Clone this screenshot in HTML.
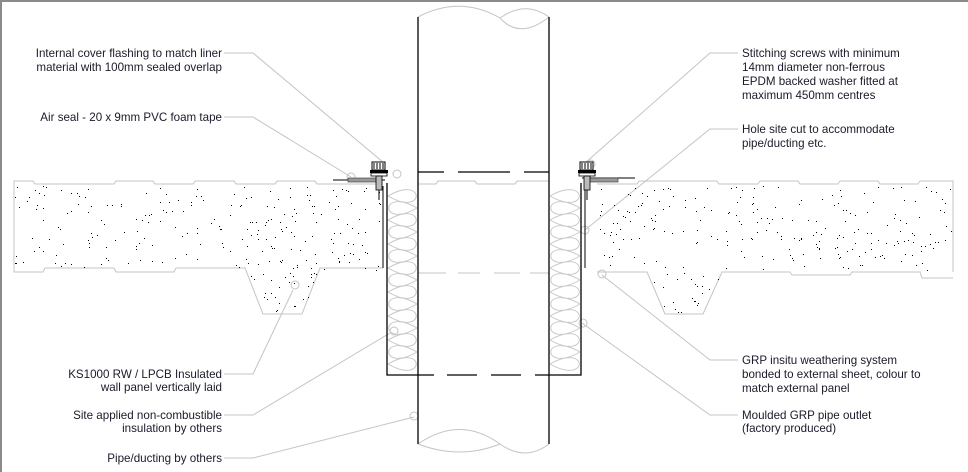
<!DOCTYPE html>
<html><head><meta charset="utf-8"><style>
html,body{margin:0;padding:0;background:#fff;}
svg{display:block;}
text{font-family:"Liberation Sans",Arial,sans-serif;font-size:11.6px;fill:#1a1a2a;}
</style></head><body>
<svg id="s" width="968" height="472" viewBox="0 0 968 472" xmlns="http://www.w3.org/2000/svg">
<rect x="0" y="0" width="968" height="2" fill="#8a8a8a"/>
<rect x="0" y="0" width="2" height="472" fill="#8a8a8a"/>
<g fill="none" stroke="#c4c4c4" stroke-width="1">
<path d="M14,184 L14,181 L33,181 L35,184 L114,184 L116,181 L153,181 L155,184 L193,184 L195,181 L234,181 L236,184 L275,184 L277,181 L315,181 L317,184 L383,184"/>
<path d="M14,184 L14,272 L43,272 L45,268 L114,268 L116,272 L174,272 L176,268 L245,268 L263,314 L302,314 L320,268 L383,268"/>
<path d="M418,184 L436,184 L438,181 L475,181 L477,184 L515,184 L517,181 L549,181"/>
<path d="M418,273 L446,273 M458,273 L480,273 M494,273 L520,273 M530,273 L549,273"/>
<path d="M597,184 L637,184 L639,181 L717,181 L719,184 L758,184 L760,181 L798,181 L800,184 L838,184 L840,181 L878,181 L880,184 L918,184 L920,181 L953,181 L953,272"/>
<path d="M597,272 L647,272 L665,314 L703,314 L722,272 L790,272 L792,275 L850,275 L852,272 L920,272 L922,278 L953,278"/>
<path d="M418,17 Q460,-5 500,18 Q520,40 549,17 M500,18 Q525,0 549,17"/>
<path d="M418,444 Q460,415 500,444 Q460,460 418,444 M500,444 Q525,462 549,444"/>
<path d="M224,53 L253,53 L384,163"/>
<path d="M224,117 L253,117 L351,177"/>
<path d="M224,374 L253,374 L293,290"/>
<path d="M224,415 L253,415 L390,333"/>
<path d="M224,458 L253,458 L414,417"/>
<path d="M738,53 L710,53 L585,163"/>
<path d="M738,129 L710,129 L585,230"/>
<path d="M738,360 L710,360 L602,275"/>
<path d="M738,415 L710,415 L582,323"/>
<circle cx="295" cy="285" r="4"/><circle cx="394" cy="331" r="4"/><circle cx="414" cy="416" r="4"/>
<circle cx="351" cy="177" r="4"/><circle cx="397" cy="174" r="4"/><circle cx="585" cy="230" r="4"/>
<circle cx="602" cy="274" r="4"/><circle cx="583" cy="323" r="4"/><circle cx="591" cy="164" r="4"/>
</g>
<g id="ins" fill="none" stroke="#c8c8c8" stroke-width="1"></g>
<g id="dots" fill="#000"></g>
<g stroke="#000" stroke-width="1.3" fill="none">
<line x1="418" y1="17" x2="418" y2="444"/>
<line x1="549" y1="17" x2="549" y2="444"/>
<path d="M387,183 L387,375 L418,375"/>
<path d="M581,183 L581,375 L549,375"/>
<path d="M418,172 L444,172 M458,172 L510,172 M524,172 L549,172"/>
<path d="M418,375 L434,375 M447,375 L477,375 M491,375 L521,375 M535,375 L549,375"/>
<line x1="383" y1="186" x2="383" y2="268" stroke-width="1"/>
<line x1="585" y1="186" x2="585" y2="268" stroke-width="1"/>
<line x1="333" y1="180" x2="385" y2="180" stroke-width="1"/>
<line x1="582" y1="178" x2="635" y2="178" stroke-width="1"/>
</g>
<g>
<rect x="348" y="178" width="30" height="4" fill="#999" stroke="#333" stroke-width="0.6"/>
<rect x="372" y="162" width="13" height="8" fill="#fff" stroke="#000"/>
<path d="M374,163v6M377,163v6M380,163v6M383,163v6" stroke="#000"/>
<rect x="370" y="170" width="18" height="3" fill="#000"/>
<rect x="371" y="173" width="16" height="3" fill="#fff" stroke="#000" stroke-width="0.8"/>
<rect x="376" y="176" width="6" height="14" fill="#bbb" stroke="#000" stroke-width="0.8"/>
<line x1="379" y1="190" x2="379" y2="200" stroke="#000"/>
<rect x="588" y="178" width="30" height="4" fill="#999" stroke="#333" stroke-width="0.6"/>
<rect x="580" y="162" width="13" height="8" fill="#fff" stroke="#000"/>
<path d="M582,163v6M585,163v6M588,163v6M591,163v6" stroke="#000"/>
<rect x="578" y="170" width="18" height="3" fill="#000"/>
<rect x="579" y="173" width="16" height="3" fill="#fff" stroke="#000" stroke-width="0.8"/>
<rect x="584" y="176" width="6" height="14" fill="#bbb" stroke="#000" stroke-width="0.8"/>
<line x1="587" y1="190" x2="587" y2="200" stroke="#000"/>
</g>
<g text-anchor="end">
<text x="222" y="57">Internal cover flashing to match liner</text>
<text x="222" y="71">material with 100mm sealed overlap</text>
<text x="222" y="121">Air seal - 20 x 9mm PVC foam tape</text>
<text x="222" y="378">KS1000 RW / LPCB Insulated</text>
<text x="222" y="391">wall panel vertically laid</text>
<text x="222" y="419">Site applied non-combustible</text>
<text x="222" y="432">insulation by others</text>
<text x="222" y="462">Pipe/ducting by others</text>
</g>
<g>
<text x="742" y="57">Stitching screws with minimum</text>
<text x="742" y="71">14mm diameter non-ferrous</text>
<text x="742" y="85">EPDM backed washer fitted at</text>
<text x="742" y="99">maximum 450mm centres</text>
<text x="742" y="133">Hole site cut to accommodate</text>
<text x="742" y="147">pipe/ducting etc.</text>
<text x="742" y="364">GRP insitu weathering system</text>
<text x="742" y="378">bonded to external sheet, colour to</text>
<text x="742" y="392">match external panel</text>
<text x="742" y="419">Moulded GRP pipe outlet</text>
<text x="742" y="432">(factory produced)</text>
</g>
</svg>
<script>
var ns="http://www.w3.org/2000/svg";
var seed=7;function r(){seed=(seed*16807)%2147483647;return seed/2147483647;}
var d=document.getElementById("dots");
function dots(x0,x1,y0,y1,n,tr){for(var i=0;i<n;i++){var x=x0+r()*(x1-x0),y=y0+r()*(y1-y0);
if(tr){var t=(y-272)/42;var a=tr[0]+18*t,b=tr[1]-18*t;if(x<a||x>b)continue;}
var e=document.createElementNS(ns,"rect");e.setAttribute("x",x.toFixed(0));e.setAttribute("y",y.toFixed(0));e.setAttribute("width",1);e.setAttribute("height",1);d.appendChild(e);}}
dots(15,381,186,270,230);dots(599,952,186,270,230);
dots(245,320,272,313,35,[245,320]);dots(647,722,272,313,35,[647,722]);
var g=document.getElementById("ins");
function ins(x0,x1){var w=x1-x0,s="";
for(var m=196;m<368;m+=24){
s+="M"+x0+","+m+" C"+(x0+w*1.3)+","+(m-22)+" "+(x0+w*1.3)+","+(m+22)+" "+x0+","+m+" ";}
for(var m=208;m<368;m+=24){
s+="M"+x1+","+m+" C"+(x1-w*1.3)+","+(m-22)+" "+(x1-w*1.3)+","+(m+22)+" "+x1+","+m+" ";}
var p=document.createElementNS(ns,"path");p.setAttribute("d",s);g.appendChild(p);}
ins(388,417);ins(550,580);
</script>
</body></html>
